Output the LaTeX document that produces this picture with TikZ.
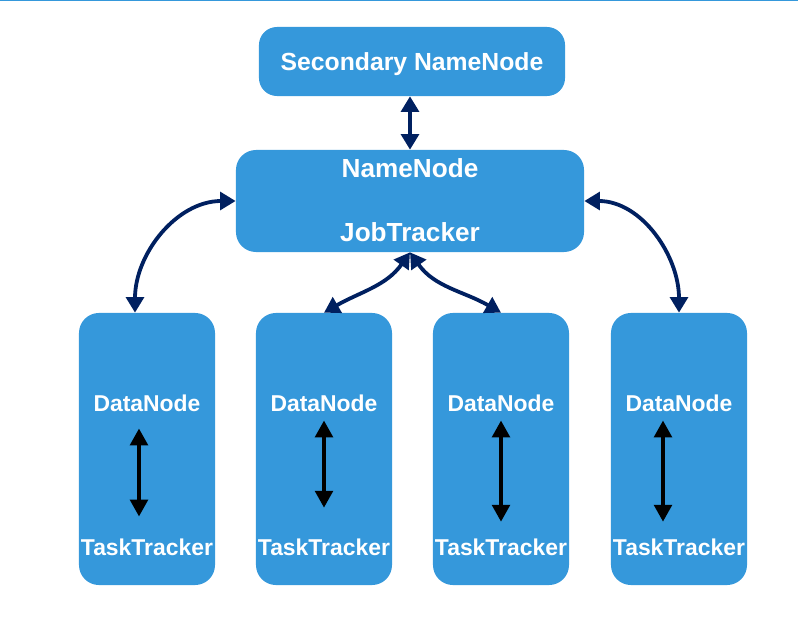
\documentclass[tikz,border=0pt]{standalone}
\usepackage{fontspec}
\setmainfont{Liberation Sans}
\usetikzlibrary{arrows.meta}

\definecolor{boxblue}{RGB}{53,152,219}
\definecolor{navy}{RGB}{0,32,96}

\tikzset{
  hbox/.style={fill=boxblue, rounded corners=0.5cm, inner sep=0pt},
  toptext/.style={text=white, font=\bfseries\fontsize{17.6}{20}\selectfont, inner sep=0pt, anchor=base},
  nntext/.style={text=white, font=\bfseries\fontsize{18.6}{21}\selectfont, inner sep=0pt, anchor=base},
  dntext/.style={text=white, font=\bfseries\fontsize{16.3}{19}\selectfont, inner sep=0pt, anchor=base},
  navyarrow/.style={draw=navy, line width=2.7pt, {Triangle[length=11pt,width=12.5pt]}-{Triangle[length=11pt,width=12.5pt]}},
  blkarrow/.style={draw=black, line width=2.7pt, {Triangle[length=12pt,width=12.5pt]}-{Triangle[length=12pt,width=12.5pt]}}
}

\begin{document}
\begin{tikzpicture}[x=0.025cm, y=-0.025cm]

%Rahmen
\useasboundingbox (0,0) rectangle (798,624);
\draw[boxblue, line width=1.4pt] (0,0.5) -- (798,0.5);

%Secondary NameNode
\node[hbox, rounded corners=0.45cm, minimum width=7.65cm, minimum height=1.725cm] (sec) at (412,61.5) {};
\node[toptext] (seclabel) at (412,70.5) {Secondary NameNode};

%NameNode / JobTracker
\node[hbox, minimum width=8.7cm, minimum height=2.55cm] (nn) at (410,201) {};
\node[nntext] (nnlabel) at (410,178) {NameNode};
\node[nntext] (jtlabel) at (410,242) {JobTracker};

%DataNode / TaskTracker
\foreach \i/\x in {1/147, 2/324, 3/501, 4/679} {
  \node[hbox, minimum width=3.4cm, minimum height=6.8cm] (box\i) at (\x,449) {};
  \node[dntext] (dn\i) at (\x,411) {DataNode};
  \node[dntext] (tt\i) at (\x,555) {TaskTracker};
}

%Pfeile innen
\draw[blkarrow, shorten <=0.425cm, shorten >=0.54cm] ([xshift=-0.2cm]dn1.south) -- ([xshift=-0.2cm]tt1.north);
\draw[blkarrow, shorten <=0.225cm, shorten >=0.76cm] (dn2.south) -- (tt2.north);
\draw[blkarrow, shorten <=0.225cm, shorten >=0.41cm] (dn3.south) -- (tt3.north);
\draw[blkarrow, shorten <=0.225cm, shorten >=0.41cm] ([xshift=-0.4cm]dn4.south) -- ([xshift=-0.4cm]tt4.north);

%Verbindungen
\draw[navyarrow] ([xshift=-0.05cm]sec.south) -- (nn.north);
\draw[navyarrow] (nn.west) to[out=180, in=90] ([xshift=-0.3cm]box1.north);
\draw[navyarrow] (nn.east) to[out=0, in=90] (box4.north);
\draw[navyarrow] (nn.south) to[out=-125, in=30] (box2.north);
\draw[navyarrow] (nn.south) to[out=-55, in=150] (box3.north);

\end{tikzpicture}
\end{document}
